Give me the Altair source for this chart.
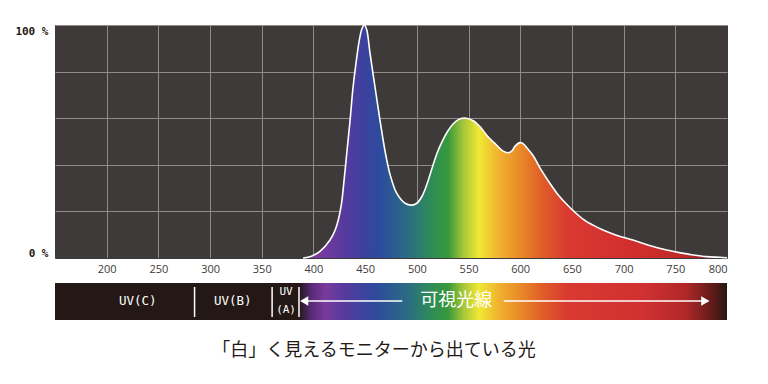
import altair as alt
import pandas as pd

# ---- spectrum (wavelength nm, relative intensity %) ----
wl = [390, 398, 406, 416, 421, 424, 427, 429, 432, 435.4, 438, 440.3, 444.4, 447, 449.2,
      451.5, 454.7, 459.5, 464.4, 469.2, 474, 480.5, 488.6, 495, 500, 505, 510, 515, 520,
      525, 530, 535, 541, 548, 555, 561, 568, 577, 583, 588.5, 592, 595, 599.8, 603,
      607, 612.7, 620, 628, 636, 644, 652, 661, 670, 680, 693, 709, 725, 741.7, 755, 767.4,
      780, 793, 800]
pct = [0, 0.8, 2.7, 7.7, 12, 16.3, 23, 30.6, 44, 59, 72, 80.7, 93.6, 98.5, 100,
       98, 87.8, 73.5, 59, 46, 36, 27.8, 23.5, 22.7, 23.5, 26.5, 32, 39, 45.5,
       50.5, 54.5, 57.5, 59.6, 60, 58.8, 56.4, 52.5, 48.5, 46, 45.2, 46, 48, 49.5, 49,
       47, 43.8, 38, 32.5, 27.5, 23.5, 20, 16.6, 14.2, 12, 9.8, 7.7, 5.4, 3.4, 2.2, 1.3,
       0.6, 0.3, 0.1]

# ---- spectrum colour stops (wavelength, colour) ----
area_stop_wl = [390, 405, 430, 450, 465, 490, 512, 530, 545, 560, 580, 600, 620, 645, 700, 750, 800]
area_stop_col = ["#6a3a96", "#7a3a9e", "#563a9e", "#3a429e", "#2c4c9c", "#2b6a86", "#2e8a5a",
                 "#36993c", "#a6c63a", "#f0e834", "#f0b030", "#e88a28", "#e06028", "#d83a30",
                 "#d32f2f", "#c42a2a", "#8a2020"]
bar_stop_wl = [386, 398, 412, 430, 460, 490, 512, 530, 545, 560, 580, 600, 620, 645, 720, 760, 788, 800]
bar_stop_col = ["#231815", "#5a2a7a", "#7a3a9e", "#563a9e", "#2e4a9c", "#2b6a86", "#2e8a5a",
                "#36993c", "#a6c63a", "#f0e834", "#f0b030", "#e88a28", "#e06028", "#d83a30",
                "#d03030", "#b02828", "#5a1a18", "#231815"]

# ---- band below ----
band_start = [150]
band_end = [800]
visible_start = [386]
separators = [285, 360, 386]
uv_labels = ["UV(C)", "UV(B)", "UV", "(A)"]
uv_label_wl = [230, 322, 373.5, 373.5]
uv_label_row = [0, 0, -1, 1]
arrow_seg_start = [389, 584]
arrow_seg_end = [486, 782]
arrow_head_wl = [391, 779]
arrow_head_shape = ["triangle-left", "triangle-right"]
visible_label = ["可視光線"]
visible_label_wl = [538]
caption = "「白」く見えるモニターから出ている光"

x_domain = [150, 800]


def grad(stop_wl, stop_col):
    lo, hi = stop_wl[0], stop_wl[-1]
    return alt.Gradient(
        gradient="linear",
        stops=[alt.GradientStop(color=c, offset=(w - lo) / (hi - lo)) for w, c in zip(stop_wl, stop_col)],
        x1=0, x2=1, y1=0, y2=0,
    )


xs = alt.Scale(domain=x_domain, nice=False, zero=False)


def X(field):
    return alt.X(field, scale=xs, title=None)


spec_df = pd.DataFrame({"wl": wl, "pct": pct})

area = alt.Chart(spec_df).mark_area(
    interpolate="catmull-rom",
    color=grad(area_stop_wl, area_stop_col),
    opacity=1, fillOpacity=1,
    line={"color": "white", "strokeWidth": 1.6, "opacity": 1},
).encode(
    x=alt.X("wl:Q", scale=xs, axis=alt.Axis(
        title=None, tickCount=13, ticks=False, domain=False, labelFlush=True,
        labelExpr="datum.value == 150 ? '' : datum.label",
        labelPadding=5, labelFontSize=11, labelFont="Open Sans", labelColor="#3e3a39",
        gridColor={"condition": {"test": "datum.value == 150 || datum.value == 800", "value": "#3e3a39"},
                   "value": "#8f8b89"},
        gridWidth=1,
    )),
    y=alt.Y("pct:Q", scale=alt.Scale(domain=[0, 100], nice=False), axis=alt.Axis(
        title=None, values=[0, 20, 40, 60, 80, 100], ticks=False, domain=False, labelFlush=True,
        labelExpr="datum.value == 100 ? '100 %' : (datum.value == 0 ? '0 %' : '')",
        labelPadding=7, labelFontSize=11, labelFont="DejaVu Sans Mono", labelFontWeight="bold",
        labelColor="#231815",
        gridColor={"condition": {"test": "datum.value == 0", "value": "#3e3a39"}, "value": "#8f8b89"},
        gridWidth=1,
    )),
)

band_df = pd.DataFrame({"a": band_start, "b": band_end})
band = alt.Chart(band_df).mark_rect(color="#231815").encode(
    x=X("a:Q"), x2="b:Q",
    y=alt.value(258), y2=alt.value(295),
)

vis_df = pd.DataFrame({"a": visible_start, "b": band_end})
vis = alt.Chart(vis_df).mark_rect(color=grad(bar_stop_wl, bar_stop_col)).encode(
    x=X("a:Q"), x2="b:Q",
    y=alt.value(258), y2=alt.value(295),
)

sep_df = pd.DataFrame({"s": separators})
seps = alt.Chart(sep_df).mark_rule(color="white", strokeWidth=1.5).encode(
    x=X("s:Q"),
    y=alt.value(262), y2=alt.value(292),
)

uv_df = pd.DataFrame({"t": uv_labels, "w": uv_label_wl, "r": uv_label_row})
uv_main = alt.Chart(uv_df[uv_df.r == 0]).mark_text(
    color="white", font="DejaVu Sans Mono", fontSize=12.5, baseline="middle"
).encode(x=X("w:Q"), y=alt.value(276), text="t:N")
uv_top = alt.Chart(uv_df[uv_df.r == -1]).mark_text(
    color="white", font="DejaVu Sans Mono", fontSize=11, baseline="middle"
).encode(x=X("w:Q"), y=alt.value(267), text="t:N")
uv_bot = alt.Chart(uv_df[uv_df.r == 1]).mark_text(
    color="white", font="DejaVu Sans Mono", fontSize=11, baseline="middle"
).encode(x=X("w:Q"), y=alt.value(285), text="t:N")

seg_df = pd.DataFrame({"a": arrow_seg_start, "b": arrow_seg_end})
segs = alt.Chart(seg_df).mark_rule(color="white", strokeWidth=1.5).encode(
    x=X("a:Q"), x2="b:Q", y=alt.value(276),
)

head_df = pd.DataFrame({"w": arrow_head_wl, "s": arrow_head_shape})
heads = alt.Chart(head_df).mark_point(filled=True, color="white", opacity=1, size=90).encode(
    x=X("w:Q"), y=alt.value(276),
    shape=alt.Shape("s:N", scale=None, legend=None),
)

vl_df = pd.DataFrame({"t": visible_label, "w": visible_label_wl})
vtext = alt.Chart(vl_df).mark_text(
    color="white", font="Noto Sans CJK JP", fontSize=18, baseline="middle"
).encode(x=X("w:Q"), y=alt.value(276), text="t:N")

cap_df = pd.DataFrame({"t": [caption]})
cap = alt.Chart(cap_df).mark_text(
    color="#231815", font="Noto Sans CJK JP", fontSize=18, baseline="middle"
).encode(x=alt.value(319), y=alt.value(326), text="t:N")

chart = alt.layer(area, band, vis, seps, uv_main, uv_top, uv_bot, segs, heads, vtext, cap).properties(
    width=672, height=233,
    autosize=alt.AutoSizeParams(type="none"),
    padding={"left": 47, "top": 17, "right": 33, "bottom": 118},
    background="white",
).configure_view(fill="#3e3a39", strokeWidth=0)

chart.save("out.html", embed_options={"renderer": "svg", "actions": False})
